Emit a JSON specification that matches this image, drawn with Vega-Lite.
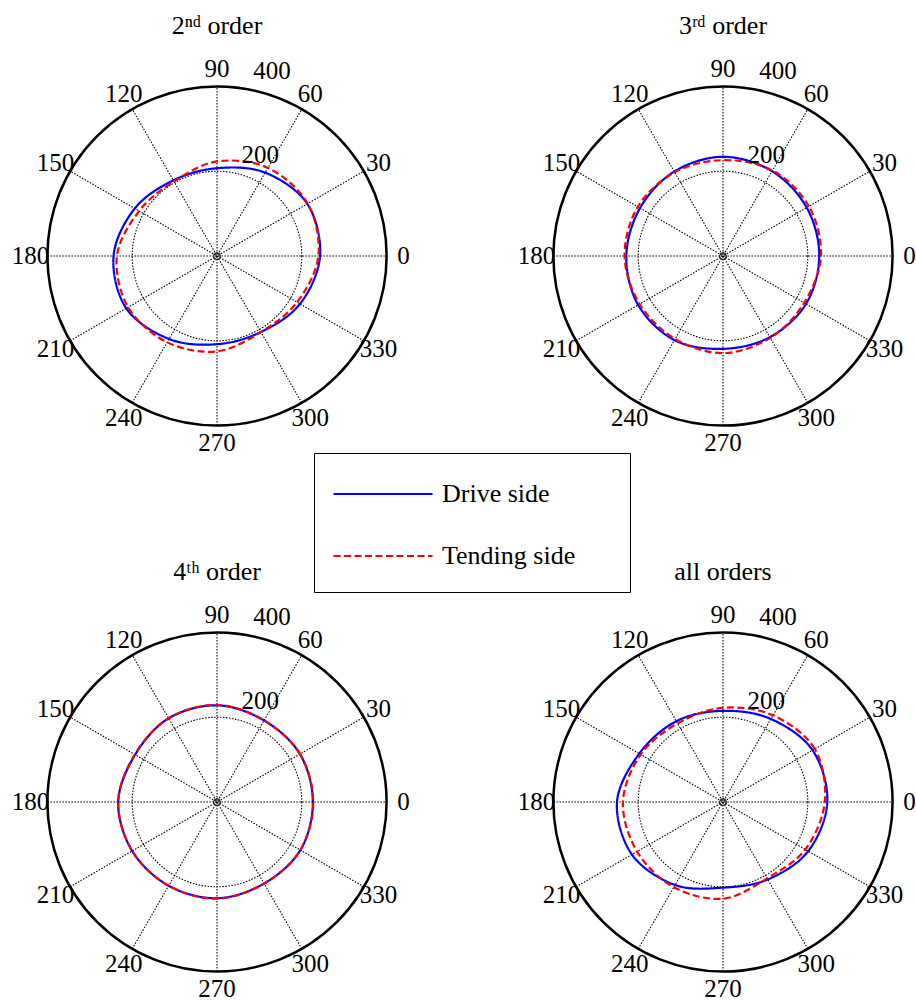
{
  "$schema": "https://vega.github.io/schema/vega-lite/v6.json",
  "autosize": {"type": "pad"},
  "padding": {"left": 5, "top": 13, "right": 0, "bottom": 0},
  "background": "white",
  "config": {"view": {"stroke": null}, "font": "Liberation Serif"},
  "datasets": {
    "spokes": [{"a": 0}, {"a": 30}, {"a": 60}, {"a": 90}, {"a": 120}, {"a": 150}],
    "alabels": [{"a": 0}, {"a": 30}, {"a": 60}, {"a": 90}, {"a": 120}, {"a": 150}, {"a": 180}, {"a": 210}, {"a": 240}, {"a": 270}, {"a": 300}, {"a": 330}],
    "circles": [{"r": 200, "kind": "grid"}, {"r": 400, "kind": "outer"}, {"r": 8, "kind": "center"}],
    "rlabels": [{"r": 200}, {"r": 400}],
    "curves": [
      {"p": "2nd", "side": "Drive side", "a": 0, "r": 243}, {"p": "2nd", "side": "Drive side", "a": 30, "r": 246}, {"p": "2nd", "side": "Drive side", "a": 60, "r": 227}, {"p": "2nd", "side": "Drive side", "a": 90, "r": 207}, {"p": "2nd", "side": "Drive side", "a": 120, "r": 206}, {"p": "2nd", "side": "Drive side", "a": 150, "r": 224}, {"p": "2nd", "side": "Drive side", "a": 180, "r": 244}, {"p": "2nd", "side": "Drive side", "a": 210, "r": 247}, {"p": "2nd", "side": "Drive side", "a": 240, "r": 226}, {"p": "2nd", "side": "Drive side", "a": 270, "r": 208}, {"p": "2nd", "side": "Drive side", "a": 300, "r": 207}, {"p": "2nd", "side": "Drive side", "a": 330, "r": 226},
      {"p": "2nd", "side": "Tending side", "a": 0, "r": 239}, {"p": "2nd", "side": "Tending side", "a": 30, "r": 247}, {"p": "2nd", "side": "Tending side", "a": 60, "r": 240}, {"p": "2nd", "side": "Tending side", "a": 90, "r": 223}, {"p": "2nd", "side": "Tending side", "a": 120, "r": 203}, {"p": "2nd", "side": "Tending side", "a": 150, "r": 212}, {"p": "2nd", "side": "Tending side", "a": 180, "r": 236}, {"p": "2nd", "side": "Tending side", "a": 210, "r": 242}, {"p": "2nd", "side": "Tending side", "a": 240, "r": 235}, {"p": "2nd", "side": "Tending side", "a": 270, "r": 225}, {"p": "2nd", "side": "Tending side", "a": 300, "r": 207}, {"p": "2nd", "side": "Tending side", "a": 330, "r": 218},
      {"p": "3rd", "side": "Drive side", "a": 0, "r": 227}, {"p": "3rd", "side": "Drive side", "a": 30, "r": 228}, {"p": "3rd", "side": "Drive side", "a": 60, "r": 231}, {"p": "3rd", "side": "Drive side", "a": 90, "r": 234}, {"p": "3rd", "side": "Drive side", "a": 120, "r": 230}, {"p": "3rd", "side": "Drive side", "a": 150, "r": 226}, {"p": "3rd", "side": "Drive side", "a": 180, "r": 228}, {"p": "3rd", "side": "Drive side", "a": 210, "r": 231}, {"p": "3rd", "side": "Drive side", "a": 240, "r": 229}, {"p": "3rd", "side": "Drive side", "a": 270, "r": 219}, {"p": "3rd", "side": "Drive side", "a": 300, "r": 221}, {"p": "3rd", "side": "Drive side", "a": 330, "r": 226},
      {"p": "3rd", "side": "Tending side", "a": 0, "r": 231}, {"p": "3rd", "side": "Tending side", "a": 30, "r": 234}, {"p": "3rd", "side": "Tending side", "a": 60, "r": 233}, {"p": "3rd", "side": "Tending side", "a": 90, "r": 226}, {"p": "3rd", "side": "Tending side", "a": 120, "r": 228}, {"p": "3rd", "side": "Tending side", "a": 150, "r": 232}, {"p": "3rd", "side": "Tending side", "a": 180, "r": 232}, {"p": "3rd", "side": "Tending side", "a": 210, "r": 227}, {"p": "3rd", "side": "Tending side", "a": 240, "r": 226}, {"p": "3rd", "side": "Tending side", "a": 270, "r": 229}, {"p": "3rd", "side": "Tending side", "a": 300, "r": 223}, {"p": "3rd", "side": "Tending side", "a": 330, "r": 221},
      {"p": "4th", "side": "Drive side", "a": 0, "r": 226}, {"p": "4th", "side": "Drive side", "a": 30, "r": 226}, {"p": "4th", "side": "Drive side", "a": 60, "r": 222}, {"p": "4th", "side": "Drive side", "a": 90, "r": 228}, {"p": "4th", "side": "Drive side", "a": 120, "r": 228}, {"p": "4th", "side": "Drive side", "a": 150, "r": 223}, {"p": "4th", "side": "Drive side", "a": 180, "r": 233}, {"p": "4th", "side": "Drive side", "a": 210, "r": 231}, {"p": "4th", "side": "Drive side", "a": 240, "r": 228}, {"p": "4th", "side": "Drive side", "a": 270, "r": 227}, {"p": "4th", "side": "Drive side", "a": 300, "r": 222}, {"p": "4th", "side": "Drive side", "a": 330, "r": 227},
      {"p": "4th", "side": "Tending side", "a": 0, "r": 227}, {"p": "4th", "side": "Tending side", "a": 30, "r": 226}, {"p": "4th", "side": "Tending side", "a": 60, "r": 222}, {"p": "4th", "side": "Tending side", "a": 90, "r": 229}, {"p": "4th", "side": "Tending side", "a": 120, "r": 228}, {"p": "4th", "side": "Tending side", "a": 150, "r": 224}, {"p": "4th", "side": "Tending side", "a": 180, "r": 233}, {"p": "4th", "side": "Tending side", "a": 210, "r": 231}, {"p": "4th", "side": "Tending side", "a": 240, "r": 228}, {"p": "4th", "side": "Tending side", "a": 270, "r": 228}, {"p": "4th", "side": "Tending side", "a": 300, "r": 222}, {"p": "4th", "side": "Tending side", "a": 330, "r": 227},
      {"p": "all", "side": "Drive side", "a": 0, "r": 246}, {"p": "all", "side": "Drive side", "a": 30, "r": 244}, {"p": "all", "side": "Drive side", "a": 60, "r": 226}, {"p": "all", "side": "Drive side", "a": 90, "r": 215}, {"p": "all", "side": "Drive side", "a": 120, "r": 220}, {"p": "all", "side": "Drive side", "a": 150, "r": 228}, {"p": "all", "side": "Drive side", "a": 180, "r": 250}, {"p": "all", "side": "Drive side", "a": 210, "r": 248}, {"p": "all", "side": "Drive side", "a": 240, "r": 226}, {"p": "all", "side": "Drive side", "a": 270, "r": 202}, {"p": "all", "side": "Drive side", "a": 300, "r": 211}, {"p": "all", "side": "Drive side", "a": 330, "r": 232},
      {"p": "all", "side": "Tending side", "a": 0, "r": 240}, {"p": "all", "side": "Tending side", "a": 30, "r": 250}, {"p": "all", "side": "Tending side", "a": 60, "r": 236}, {"p": "all", "side": "Tending side", "a": 90, "r": 222}, {"p": "all", "side": "Tending side", "a": 120, "r": 214}, {"p": "all", "side": "Tending side", "a": 150, "r": 224}, {"p": "all", "side": "Tending side", "a": 180, "r": 236}, {"p": "all", "side": "Tending side", "a": 210, "r": 234}, {"p": "all", "side": "Tending side", "a": 240, "r": 232}, {"p": "all", "side": "Tending side", "a": 270, "r": 228}, {"p": "all", "side": "Tending side", "a": 300, "r": 208}, {"p": "all", "side": "Tending side", "a": 330, "r": 224}
    ]
  },
  "spacing": 91,
  "vconcat": [
    {"hconcat": [
      {"width": 424, "height": 424,
       "title": {"text": "2ⁿᵈ order", "font": "Liberation Serif", "fontSize": 26, "fontWeight": "normal", "color": "black", "frame": "group", "offset": -16, "baseline": "alphabetic"},
       "layer": [
        {"data": {"name": "spokes"}, "transform": [{"calculate": "400*cos(datum.a*PI/180)", "as": "sx"}, {"calculate": "400*sin(datum.a*PI/180)", "as": "sy"}, {"calculate": "-datum.sx", "as": "nx"}, {"calculate": "-datum.sy", "as": "ny"}], "mark": {"type": "rule", "color": "black", "strokeWidth": 1.1, "strokeDash": [1.5, 1.5]}, "encoding": {"x": {"field": "nx", "type": "quantitative", "scale": {"domain": [-500, 500], "nice": false, "zero": false}, "axis": null}, "y": {"field": "ny", "type": "quantitative", "scale": {"domain": [-500, 500], "nice": false, "zero": false}, "axis": null}, "x2": {"field": "sx"}, "y2": {"field": "sy"}}},
        {"data": {"name": "circles"}, "transform": [{"filter": "datum.kind == 'grid'"}], "mark": {"type": "point", "shape": "circle", "filled": false, "stroke": "black", "strokeWidth": 1.1, "strokeDash": [1.5, 1.5], "opacity": 1}, "encoding": {"x": {"datum": 0, "type": "quantitative", "scale": {"domain": [-500, 500], "nice": false, "zero": false}, "axis": null}, "y": {"datum": 0, "type": "quantitative", "scale": {"domain": [-500, 500], "nice": false, "zero": false}, "axis": null}, "size": {"field": "r", "type": "quantitative", "scale": {"type": "pow", "exponent": 2, "domain": [0, 500], "range": [0, 179776]}, "legend": null}}},
        {"data": {"name": "circles"}, "transform": [{"filter": "datum.kind == 'outer'"}], "mark": {"type": "point", "shape": "circle", "filled": false, "stroke": "black", "strokeWidth": 2.5, "opacity": 1}, "encoding": {"x": {"datum": 0, "type": "quantitative", "scale": {"domain": [-500, 500], "nice": false, "zero": false}, "axis": null}, "y": {"datum": 0, "type": "quantitative", "scale": {"domain": [-500, 500], "nice": false, "zero": false}, "axis": null}, "size": {"field": "r", "type": "quantitative", "scale": {"type": "pow", "exponent": 2, "domain": [0, 500], "range": [0, 179776]}, "legend": null}}},
        {"data": {"name": "circles"}, "transform": [{"filter": "datum.kind == 'center'"}], "mark": {"type": "point", "shape": "circle", "filled": false, "stroke": "black", "strokeWidth": 1, "opacity": 1}, "encoding": {"x": {"datum": 0, "type": "quantitative", "scale": {"domain": [-500, 500], "nice": false, "zero": false}, "axis": null}, "y": {"datum": 0, "type": "quantitative", "scale": {"domain": [-500, 500], "nice": false, "zero": false}, "axis": null}, "size": {"field": "r", "type": "quantitative", "scale": {"type": "pow", "exponent": 2, "domain": [0, 500], "range": [0, 179776]}, "legend": null}}},
        {"data": {"name": "curves"}, "transform": [{"filter": "datum.p == '2nd'"}, {"calculate": "datum.r*cos(datum.a*PI/180)", "as": "cx"}, {"calculate": "datum.r*sin(datum.a*PI/180)", "as": "cy"}], "mark": {"type": "line", "interpolate": "cardinal-closed", "strokeWidth": 2.2}, "encoding": {"x": {"field": "cx", "type": "quantitative", "scale": {"domain": [-500, 500], "nice": false, "zero": false}, "axis": null}, "y": {"field": "cy", "type": "quantitative", "scale": {"domain": [-500, 500], "nice": false, "zero": false}, "axis": null}, "order": {"field": "a", "type": "quantitative"}, "color": {"field": "side", "type": "nominal", "scale": {"domain": ["Drive side", "Tending side"], "range": ["#0000ff", "#ff0000"]}, "legend": {"orient": "none", "legendX": 309, "legendY": 409, "title": " ", "titleOrient": "right", "titlePadding": 32, "titleFontSize": 10, "symbolType": "M-3,0H3", "symbolSize": 1089, "symbolOffset": 28, "symbolStrokeWidth": 2.2, "labelFont": "Liberation Serif", "labelFontSize": 26, "labelColor": "black", "labelOffset": 41, "padding": 23, "strokeColor": "black", "fillColor": "white", "rowPadding": 31}}, "strokeDash": {"field": "side", "type": "nominal", "scale": {"domain": ["Drive side", "Tending side"], "range": [[1, 0], [7, 3.5]]}, "legend": {"orient": "none", "legendX": 309, "legendY": 409, "title": " ", "titleOrient": "right", "titlePadding": 32, "titleFontSize": 10, "symbolType": "M-3,0H3", "symbolSize": 1089, "symbolOffset": 28, "symbolStrokeWidth": 2.2, "labelFont": "Liberation Serif", "labelFontSize": 26, "labelColor": "black", "labelOffset": 41, "padding": 23, "strokeColor": "black", "fillColor": "white", "rowPadding": 31}}}},
        {"data": {"name": "alabels"}, "transform": [{"calculate": "440*cos(datum.a*PI/180)", "as": "lx"}, {"calculate": "440*sin(datum.a*PI/180)", "as": "ly"}], "mark": {"type": "text", "font": "Liberation Serif", "fontSize": 25, "align": "center", "baseline": "middle", "color": "black"}, "encoding": {"x": {"field": "lx", "type": "quantitative", "scale": {"domain": [-500, 500], "nice": false, "zero": false}, "axis": null}, "y": {"field": "ly", "type": "quantitative", "scale": {"domain": [-500, 500], "nice": false, "zero": false}, "axis": null}, "text": {"field": "a", "type": "quantitative", "format": "d"}}},
        {"data": {"name": "rlabels"}, "transform": [{"calculate": "(datum.r+10)*cos(82*PI/180)", "as": "lx"}, {"calculate": "(datum.r+10)*sin(82*PI/180)", "as": "ly"}], "mark": {"type": "text", "font": "Liberation Serif", "fontSize": 25, "align": "left", "baseline": "bottom", "dx": 12, "color": "black"}, "encoding": {"x": {"field": "lx", "type": "quantitative", "scale": {"domain": [-500, 500], "nice": false, "zero": false}, "axis": null}, "y": {"field": "ly", "type": "quantitative", "scale": {"domain": [-500, 500], "nice": false, "zero": false}, "axis": null}, "text": {"field": "r", "type": "quantitative", "format": "d"}}}
       ]},
      {"width": 424, "height": 424,
       "title": {"text": "3ʳᵈ order", "font": "Liberation Serif", "fontSize": 26, "fontWeight": "normal", "color": "black", "frame": "group", "offset": -16, "baseline": "alphabetic"},
       "layer": [
        {"data": {"name": "spokes"}, "transform": [{"calculate": "400*cos(datum.a*PI/180)", "as": "sx"}, {"calculate": "400*sin(datum.a*PI/180)", "as": "sy"}, {"calculate": "-datum.sx", "as": "nx"}, {"calculate": "-datum.sy", "as": "ny"}], "mark": {"type": "rule", "color": "black", "strokeWidth": 1.1, "strokeDash": [1.5, 1.5]}, "encoding": {"x": {"field": "nx", "type": "quantitative", "scale": {"domain": [-500, 500], "nice": false, "zero": false}, "axis": null}, "y": {"field": "ny", "type": "quantitative", "scale": {"domain": [-500, 500], "nice": false, "zero": false}, "axis": null}, "x2": {"field": "sx"}, "y2": {"field": "sy"}}},
        {"data": {"name": "circles"}, "transform": [{"filter": "datum.kind == 'grid'"}], "mark": {"type": "point", "shape": "circle", "filled": false, "stroke": "black", "strokeWidth": 1.1, "strokeDash": [1.5, 1.5], "opacity": 1}, "encoding": {"x": {"datum": 0, "type": "quantitative", "scale": {"domain": [-500, 500], "nice": false, "zero": false}, "axis": null}, "y": {"datum": 0, "type": "quantitative", "scale": {"domain": [-500, 500], "nice": false, "zero": false}, "axis": null}, "size": {"field": "r", "type": "quantitative", "scale": {"type": "pow", "exponent": 2, "domain": [0, 500], "range": [0, 179776]}, "legend": null}}},
        {"data": {"name": "circles"}, "transform": [{"filter": "datum.kind == 'outer'"}], "mark": {"type": "point", "shape": "circle", "filled": false, "stroke": "black", "strokeWidth": 2.5, "opacity": 1}, "encoding": {"x": {"datum": 0, "type": "quantitative", "scale": {"domain": [-500, 500], "nice": false, "zero": false}, "axis": null}, "y": {"datum": 0, "type": "quantitative", "scale": {"domain": [-500, 500], "nice": false, "zero": false}, "axis": null}, "size": {"field": "r", "type": "quantitative", "scale": {"type": "pow", "exponent": 2, "domain": [0, 500], "range": [0, 179776]}, "legend": null}}},
        {"data": {"name": "circles"}, "transform": [{"filter": "datum.kind == 'center'"}], "mark": {"type": "point", "shape": "circle", "filled": false, "stroke": "black", "strokeWidth": 1, "opacity": 1}, "encoding": {"x": {"datum": 0, "type": "quantitative", "scale": {"domain": [-500, 500], "nice": false, "zero": false}, "axis": null}, "y": {"datum": 0, "type": "quantitative", "scale": {"domain": [-500, 500], "nice": false, "zero": false}, "axis": null}, "size": {"field": "r", "type": "quantitative", "scale": {"type": "pow", "exponent": 2, "domain": [0, 500], "range": [0, 179776]}, "legend": null}}},
        {"data": {"name": "curves"}, "transform": [{"filter": "datum.p == '3rd'"}, {"calculate": "datum.r*cos(datum.a*PI/180)", "as": "cx"}, {"calculate": "datum.r*sin(datum.a*PI/180)", "as": "cy"}], "mark": {"type": "line", "interpolate": "cardinal-closed", "strokeWidth": 2.2}, "encoding": {"x": {"field": "cx", "type": "quantitative", "scale": {"domain": [-500, 500], "nice": false, "zero": false}, "axis": null}, "y": {"field": "cy", "type": "quantitative", "scale": {"domain": [-500, 500], "nice": false, "zero": false}, "axis": null}, "order": {"field": "a", "type": "quantitative"}, "color": {"field": "side", "type": "nominal", "scale": {"domain": ["Drive side", "Tending side"], "range": ["#0000ff", "#ff0000"]}}, "strokeDash": {"field": "side", "type": "nominal", "scale": {"domain": ["Drive side", "Tending side"], "range": [[1, 0], [7, 3.5]]}}}},
        {"data": {"name": "alabels"}, "transform": [{"calculate": "440*cos(datum.a*PI/180)", "as": "lx"}, {"calculate": "440*sin(datum.a*PI/180)", "as": "ly"}], "mark": {"type": "text", "font": "Liberation Serif", "fontSize": 25, "align": "center", "baseline": "middle", "color": "black"}, "encoding": {"x": {"field": "lx", "type": "quantitative", "scale": {"domain": [-500, 500], "nice": false, "zero": false}, "axis": null}, "y": {"field": "ly", "type": "quantitative", "scale": {"domain": [-500, 500], "nice": false, "zero": false}, "axis": null}, "text": {"field": "a", "type": "quantitative", "format": "d"}}},
        {"data": {"name": "rlabels"}, "transform": [{"calculate": "(datum.r+10)*cos(82*PI/180)", "as": "lx"}, {"calculate": "(datum.r+10)*sin(82*PI/180)", "as": "ly"}], "mark": {"type": "text", "font": "Liberation Serif", "fontSize": 25, "align": "left", "baseline": "bottom", "dx": 12, "color": "black"}, "encoding": {"x": {"field": "lx", "type": "quantitative", "scale": {"domain": [-500, 500], "nice": false, "zero": false}, "axis": null}, "y": {"field": "ly", "type": "quantitative", "scale": {"domain": [-500, 500], "nice": false, "zero": false}, "axis": null}, "text": {"field": "r", "type": "quantitative", "format": "d"}}}
       ]}
    ], "spacing": 82, "bounds": "flush"},
    {"hconcat": [
      {"width": 424, "height": 424,
       "title": {"text": "4ᵗʰ order", "font": "Liberation Serif", "fontSize": 26, "fontWeight": "normal", "color": "black", "frame": "group", "offset": -16, "baseline": "alphabetic"},
       "layer": [
        {"data": {"name": "spokes"}, "transform": [{"calculate": "400*cos(datum.a*PI/180)", "as": "sx"}, {"calculate": "400*sin(datum.a*PI/180)", "as": "sy"}, {"calculate": "-datum.sx", "as": "nx"}, {"calculate": "-datum.sy", "as": "ny"}], "mark": {"type": "rule", "color": "black", "strokeWidth": 1.1, "strokeDash": [1.5, 1.5]}, "encoding": {"x": {"field": "nx", "type": "quantitative", "scale": {"domain": [-500, 500], "nice": false, "zero": false}, "axis": null}, "y": {"field": "ny", "type": "quantitative", "scale": {"domain": [-500, 500], "nice": false, "zero": false}, "axis": null}, "x2": {"field": "sx"}, "y2": {"field": "sy"}}},
        {"data": {"name": "circles"}, "transform": [{"filter": "datum.kind == 'grid'"}], "mark": {"type": "point", "shape": "circle", "filled": false, "stroke": "black", "strokeWidth": 1.1, "strokeDash": [1.5, 1.5], "opacity": 1}, "encoding": {"x": {"datum": 0, "type": "quantitative", "scale": {"domain": [-500, 500], "nice": false, "zero": false}, "axis": null}, "y": {"datum": 0, "type": "quantitative", "scale": {"domain": [-500, 500], "nice": false, "zero": false}, "axis": null}, "size": {"field": "r", "type": "quantitative", "scale": {"type": "pow", "exponent": 2, "domain": [0, 500], "range": [0, 179776]}, "legend": null}}},
        {"data": {"name": "circles"}, "transform": [{"filter": "datum.kind == 'outer'"}], "mark": {"type": "point", "shape": "circle", "filled": false, "stroke": "black", "strokeWidth": 2.5, "opacity": 1}, "encoding": {"x": {"datum": 0, "type": "quantitative", "scale": {"domain": [-500, 500], "nice": false, "zero": false}, "axis": null}, "y": {"datum": 0, "type": "quantitative", "scale": {"domain": [-500, 500], "nice": false, "zero": false}, "axis": null}, "size": {"field": "r", "type": "quantitative", "scale": {"type": "pow", "exponent": 2, "domain": [0, 500], "range": [0, 179776]}, "legend": null}}},
        {"data": {"name": "circles"}, "transform": [{"filter": "datum.kind == 'center'"}], "mark": {"type": "point", "shape": "circle", "filled": false, "stroke": "black", "strokeWidth": 1, "opacity": 1}, "encoding": {"x": {"datum": 0, "type": "quantitative", "scale": {"domain": [-500, 500], "nice": false, "zero": false}, "axis": null}, "y": {"datum": 0, "type": "quantitative", "scale": {"domain": [-500, 500], "nice": false, "zero": false}, "axis": null}, "size": {"field": "r", "type": "quantitative", "scale": {"type": "pow", "exponent": 2, "domain": [0, 500], "range": [0, 179776]}, "legend": null}}},
        {"data": {"name": "curves"}, "transform": [{"filter": "datum.p == '4th'"}, {"calculate": "datum.r*cos(datum.a*PI/180)", "as": "cx"}, {"calculate": "datum.r*sin(datum.a*PI/180)", "as": "cy"}], "mark": {"type": "line", "interpolate": "cardinal-closed", "strokeWidth": 2.2}, "encoding": {"x": {"field": "cx", "type": "quantitative", "scale": {"domain": [-500, 500], "nice": false, "zero": false}, "axis": null}, "y": {"field": "cy", "type": "quantitative", "scale": {"domain": [-500, 500], "nice": false, "zero": false}, "axis": null}, "order": {"field": "a", "type": "quantitative"}, "color": {"field": "side", "type": "nominal", "scale": {"domain": ["Drive side", "Tending side"], "range": ["#0000ff", "#ff0000"]}}, "strokeDash": {"field": "side", "type": "nominal", "scale": {"domain": ["Drive side", "Tending side"], "range": [[1, 0], [7, 3.5]]}}}},
        {"data": {"name": "alabels"}, "transform": [{"calculate": "440*cos(datum.a*PI/180)", "as": "lx"}, {"calculate": "440*sin(datum.a*PI/180)", "as": "ly"}], "mark": {"type": "text", "font": "Liberation Serif", "fontSize": 25, "align": "center", "baseline": "middle", "color": "black"}, "encoding": {"x": {"field": "lx", "type": "quantitative", "scale": {"domain": [-500, 500], "nice": false, "zero": false}, "axis": null}, "y": {"field": "ly", "type": "quantitative", "scale": {"domain": [-500, 500], "nice": false, "zero": false}, "axis": null}, "text": {"field": "a", "type": "quantitative", "format": "d"}}},
        {"data": {"name": "rlabels"}, "transform": [{"calculate": "(datum.r+10)*cos(82*PI/180)", "as": "lx"}, {"calculate": "(datum.r+10)*sin(82*PI/180)", "as": "ly"}], "mark": {"type": "text", "font": "Liberation Serif", "fontSize": 25, "align": "left", "baseline": "bottom", "dx": 12, "color": "black"}, "encoding": {"x": {"field": "lx", "type": "quantitative", "scale": {"domain": [-500, 500], "nice": false, "zero": false}, "axis": null}, "y": {"field": "ly", "type": "quantitative", "scale": {"domain": [-500, 500], "nice": false, "zero": false}, "axis": null}, "text": {"field": "r", "type": "quantitative", "format": "d"}}}
       ]},
      {"width": 424, "height": 424,
       "title": {"text": "all orders", "font": "Liberation Serif", "fontSize": 26, "fontWeight": "normal", "color": "black", "frame": "group", "offset": -16, "baseline": "alphabetic"},
       "layer": [
        {"data": {"name": "spokes"}, "transform": [{"calculate": "400*cos(datum.a*PI/180)", "as": "sx"}, {"calculate": "400*sin(datum.a*PI/180)", "as": "sy"}, {"calculate": "-datum.sx", "as": "nx"}, {"calculate": "-datum.sy", "as": "ny"}], "mark": {"type": "rule", "color": "black", "strokeWidth": 1.1, "strokeDash": [1.5, 1.5]}, "encoding": {"x": {"field": "nx", "type": "quantitative", "scale": {"domain": [-500, 500], "nice": false, "zero": false}, "axis": null}, "y": {"field": "ny", "type": "quantitative", "scale": {"domain": [-500, 500], "nice": false, "zero": false}, "axis": null}, "x2": {"field": "sx"}, "y2": {"field": "sy"}}},
        {"data": {"name": "circles"}, "transform": [{"filter": "datum.kind == 'grid'"}], "mark": {"type": "point", "shape": "circle", "filled": false, "stroke": "black", "strokeWidth": 1.1, "strokeDash": [1.5, 1.5], "opacity": 1}, "encoding": {"x": {"datum": 0, "type": "quantitative", "scale": {"domain": [-500, 500], "nice": false, "zero": false}, "axis": null}, "y": {"datum": 0, "type": "quantitative", "scale": {"domain": [-500, 500], "nice": false, "zero": false}, "axis": null}, "size": {"field": "r", "type": "quantitative", "scale": {"type": "pow", "exponent": 2, "domain": [0, 500], "range": [0, 179776]}, "legend": null}}},
        {"data": {"name": "circles"}, "transform": [{"filter": "datum.kind == 'outer'"}], "mark": {"type": "point", "shape": "circle", "filled": false, "stroke": "black", "strokeWidth": 2.5, "opacity": 1}, "encoding": {"x": {"datum": 0, "type": "quantitative", "scale": {"domain": [-500, 500], "nice": false, "zero": false}, "axis": null}, "y": {"datum": 0, "type": "quantitative", "scale": {"domain": [-500, 500], "nice": false, "zero": false}, "axis": null}, "size": {"field": "r", "type": "quantitative", "scale": {"type": "pow", "exponent": 2, "domain": [0, 500], "range": [0, 179776]}, "legend": null}}},
        {"data": {"name": "circles"}, "transform": [{"filter": "datum.kind == 'center'"}], "mark": {"type": "point", "shape": "circle", "filled": false, "stroke": "black", "strokeWidth": 1, "opacity": 1}, "encoding": {"x": {"datum": 0, "type": "quantitative", "scale": {"domain": [-500, 500], "nice": false, "zero": false}, "axis": null}, "y": {"datum": 0, "type": "quantitative", "scale": {"domain": [-500, 500], "nice": false, "zero": false}, "axis": null}, "size": {"field": "r", "type": "quantitative", "scale": {"type": "pow", "exponent": 2, "domain": [0, 500], "range": [0, 179776]}, "legend": null}}},
        {"data": {"name": "curves"}, "transform": [{"filter": "datum.p == 'all'"}, {"calculate": "datum.r*cos(datum.a*PI/180)", "as": "cx"}, {"calculate": "datum.r*sin(datum.a*PI/180)", "as": "cy"}], "mark": {"type": "line", "interpolate": "cardinal-closed", "strokeWidth": 2.2}, "encoding": {"x": {"field": "cx", "type": "quantitative", "scale": {"domain": [-500, 500], "nice": false, "zero": false}, "axis": null}, "y": {"field": "cy", "type": "quantitative", "scale": {"domain": [-500, 500], "nice": false, "zero": false}, "axis": null}, "order": {"field": "a", "type": "quantitative"}, "color": {"field": "side", "type": "nominal", "scale": {"domain": ["Drive side", "Tending side"], "range": ["#0000ff", "#ff0000"]}}, "strokeDash": {"field": "side", "type": "nominal", "scale": {"domain": ["Drive side", "Tending side"], "range": [[1, 0], [7, 3.5]]}}}},
        {"data": {"name": "alabels"}, "transform": [{"calculate": "440*cos(datum.a*PI/180)", "as": "lx"}, {"calculate": "440*sin(datum.a*PI/180)", "as": "ly"}], "mark": {"type": "text", "font": "Liberation Serif", "fontSize": 25, "align": "center", "baseline": "middle", "color": "black"}, "encoding": {"x": {"field": "lx", "type": "quantitative", "scale": {"domain": [-500, 500], "nice": false, "zero": false}, "axis": null}, "y": {"field": "ly", "type": "quantitative", "scale": {"domain": [-500, 500], "nice": false, "zero": false}, "axis": null}, "text": {"field": "a", "type": "quantitative", "format": "d"}}},
        {"data": {"name": "rlabels"}, "transform": [{"calculate": "(datum.r+10)*cos(82*PI/180)", "as": "lx"}, {"calculate": "(datum.r+10)*sin(82*PI/180)", "as": "ly"}], "mark": {"type": "text", "font": "Liberation Serif", "fontSize": 25, "align": "left", "baseline": "bottom", "dx": 12, "color": "black"}, "encoding": {"x": {"field": "lx", "type": "quantitative", "scale": {"domain": [-500, 500], "nice": false, "zero": false}, "axis": null}, "y": {"field": "ly", "type": "quantitative", "scale": {"domain": [-500, 500], "nice": false, "zero": false}, "axis": null}, "text": {"field": "r", "type": "quantitative", "format": "d"}}}
       ]}
    ], "spacing": 82, "bounds": "flush"}
  ]
}
